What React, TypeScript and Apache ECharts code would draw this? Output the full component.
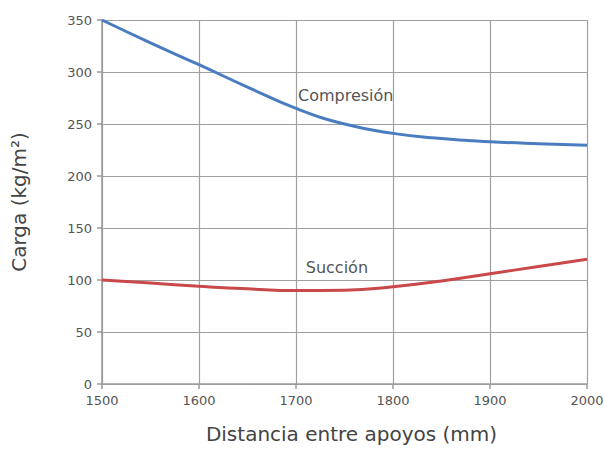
import React, { useEffect, useRef } from "react";
import * as echarts from "echarts";

const distances = [1500, 1550, 1600, 1650, 1700, 1750, 1800, 1850, 1900, 1950, 2000];
const compresion = [350, 328, 307, 285.5, 265, 250, 241, 236, 233, 231, 229.5];
const succion = [100, 97, 94, 91.5, 89.8, 90.2, 93.5, 99, 106, 113, 120];
const seriesNames = ["Compresión", "Succión"];
const xTicks = { min: 1500, max: 2000, interval: 100 };
const yTicks = { min: 0, max: 350, interval: 50 };

const FONT = "'DejaVu Sans', sans-serif";

export default function App() {
  const ref = useRef<HTMLDivElement>(null);
  useEffect(() => {
    if (!ref.current) return;
    const chart = echarts.init(ref.current, undefined, { renderer: "svg" });
    const toPairs = (vals: number[]) => distances.map((d, i) => [d, vals[i]]);
    const axisCommon = {
      axisLine: { show: true, lineStyle: { color: "#9a9a9a", width: 1.5 } },
      axisTick: { show: true, length: 5, lineStyle: { color: "#9a9a9a", width: 1.5 } },
      axisLabel: {
        fontSize: 13,
        color: "#555",
        margin: 10,
        fontFamily: FONT,
        formatter: (v: number) => String(v),
      },
      splitLine: { show: true, lineStyle: { color: "#a0a0a0", width: 1.2 } },
    };
    chart.setOption({
      animation: false,
      textStyle: { fontFamily: FONT },
      grid: {
        left: 102,
        right: 17,
        top: 20,
        bottom: 65,
        containLabel: false,
        outerBoundsMode: "none",
      },
      xAxis: {
        type: "value",
        min: xTicks.min,
        max: xTicks.max,
        interval: xTicks.interval,
        name: "Distancia entre apoyos (mm)",
        nameLocation: "middle",
        nameGap: 40,
        nameTextStyle: { fontSize: 20, color: "#444", fontFamily: FONT, padding: [0, 0, 0, 14] },
        ...axisCommon,
      },
      yAxis: {
        type: "value",
        min: yTicks.min,
        max: yTicks.max,
        interval: yTicks.interval,
        name: "Carga (kg/m²)",
        nameLocation: "middle",
        nameGap: 73,
        nameRotate: 90,
        nameTextStyle: { fontSize: 20, color: "#444", fontFamily: FONT, padding: [0, 0, 0, 0] },
        ...axisCommon,
      },
      series: [
        {
          name: seriesNames[0],
          type: "line",
          smooth: 0.5,
          showSymbol: false,
          data: toPairs(compresion),
          lineStyle: { color: "#4a7cc0", width: 3 },
          markPoint: {
            symbol: "circle",
            symbolSize: 0,
            data: [
              {
                coord: [1700, 277],
                label: {
                  show: true,
                  formatter: seriesNames[0],
                  position: "right",
                  distance: 2,
                  fontSize: 16,
                  color: "#555",
                  fontFamily: FONT,
                },
              },
            ],
          },
        },
        {
          name: seriesNames[1],
          type: "line",
          smooth: 0.5,
          showSymbol: false,
          data: toPairs(succion),
          lineStyle: { color: "#c9484a", width: 3 },
          markPoint: {
            symbol: "circle",
            symbolSize: 0,
            data: [
              {
                coord: [1708, 112.5],
                label: {
                  show: true,
                  formatter: seriesNames[1],
                  position: "right",
                  distance: 2,
                  fontSize: 16,
                  color: "#555",
                  fontFamily: FONT,
                },
              },
            ],
          },
        },
      ],
    });
    return () => chart.dispose();
  }, []);
  return (
    <div
      ref={ref}
      style={{ position: "fixed", left: 0, top: 0, width: 604, height: 449, background: "#fff" }}
    />
  );
}
